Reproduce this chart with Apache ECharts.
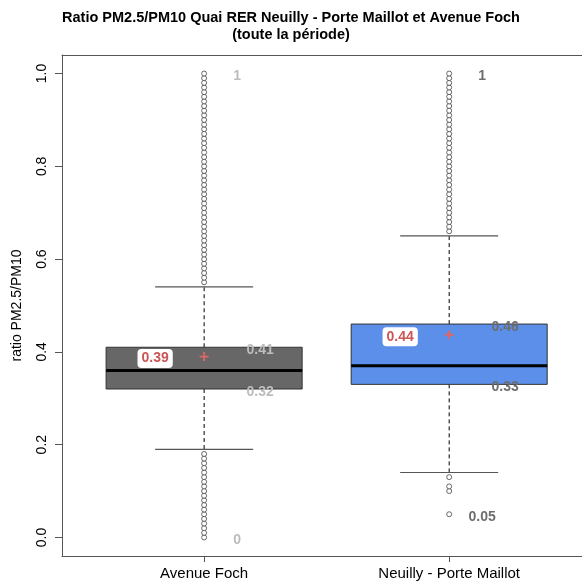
<!DOCTYPE html>
<html>
<head>
<meta charset="utf-8">
<script src="https://cdn.jsdelivr.net/npm/echarts@6/dist/echarts.min.js"></script>
<style>
  html, body { margin: 0; padding: 0; background: #fff; }
  #chart { width: 582px; height: 582px; }
</style>
</head>
<body>
<div id="chart"></div>
<script>
// sites
const categories = ["Avenue Foch", "Neuilly - Porte Maillot"];
// boxplot stats (whisker low, Q1, median, Q3, whisker high)
const whiskerLow = [0.19, 0.14];
const q1 = [0.32, 0.33];
const median = [0.36, 0.37];
const q3 = [0.41, 0.46];
const whiskerHigh = [0.54, 0.65];
const means = [0.39, 0.437];
const minVal = [0, 0.05];
const maxVal = [1, 1];
// outliers
const outliersFoch = [
  0.00, 0.01, 0.02, 0.03, 0.04, 0.05, 0.06, 0.07, 0.08, 0.09, 0.10, 0.11, 0.12, 0.13, 0.14, 0.15, 0.16, 0.17, 0.18,
  0.55, 0.56, 0.57, 0.58, 0.59, 0.60, 0.61, 0.62, 0.63, 0.64, 0.65, 0.66, 0.67, 0.68, 0.69, 0.70,
  0.71, 0.72, 0.73, 0.74, 0.75, 0.76, 0.77, 0.78, 0.79, 0.80, 0.81, 0.82, 0.83, 0.84, 0.85,
  0.86, 0.87, 0.88, 0.89, 0.90, 0.91, 0.92, 0.93, 0.94, 0.95, 0.96, 0.97, 0.98, 0.99, 1.00
];
const outliersNeuilly = [
  0.05, 0.10, 0.11, 0.13,
  0.66, 0.67, 0.68, 0.69, 0.70, 0.71, 0.72, 0.73, 0.74, 0.75, 0.76, 0.77, 0.78, 0.79, 0.80,
  0.81, 0.82, 0.83, 0.84, 0.85, 0.86, 0.87, 0.88, 0.89, 0.90, 0.91, 0.92, 0.93, 0.94, 0.95,
  0.96, 0.97, 0.98, 0.99, 1.00
];
const yTicks = [0, 0.2, 0.4, 0.6, 0.8, 1.0];

const boxColors = ["#676767", "#5b8fea"];
const labelColors = ["#bdbdbd", "#6e6e6e"];
const FONT = "Liberation Sans, Arial, sans-serif";

const chart = echarts.init(document.getElementById("chart"));

const boxData = categories.map((c, i) => [i + 1, whiskerLow[i], q1[i], median[i], q3[i], whiskerHigh[i], i]);
const outlierData = [];
outliersFoch.forEach((v) => outlierData.push([1, v]));
outliersNeuilly.forEach((v) => outlierData.push([2, v]));

// small value labels next to each box
function labelSeries(values, offsetX) {
  return {
    type: "scatter",
    symbolSize: 0,
    z: 10,
    silent: true,
    itemStyle: { opacity: 1 },
    data: values.map((v, i) => ({
      value: [i + 1, v],
      label: { color: labelColors[i] },
    })),
    label: {
      show: true,
      position: "inside",
      offset: [offsetX, 3],
      formatter: (p) => String(p.value[1]),
      fontFamily: FONT,
      fontSize: 14,
      fontWeight: "bold",
    },
  };
}

chart.setOption({
  animation: false,
  title: {
    text: "Ratio PM2.5/PM10 Quai RER Neuilly - Porte Maillot et Avenue Foch\n(toute la période)",
    left: "center",
    top: 4,
    textStyle: {
      fontFamily: FONT,
      fontSize: 14.5,
      fontWeight: "bold",
      lineHeight: 17,
      color: "#000",
    },
  },
  grid: {
    left: 62,
    right: 0,
    top: 55,
    bottom: 26,
  },
  xAxis: [
    {
      type: "value",
      min: 0.42,
      max: 2.542,
      axisLine: { show: true, onZero: false, lineStyle: { color: "#555" } },
      axisTick: { show: true, customValues: [1, 2], length: 6, lineStyle: { color: "#555" } },
      axisLabel: {
        customValues: [1, 2],
        formatter: (v) => categories[Math.round(v) - 1],
        fontFamily: FONT,
        fontSize: 15,
        color: "#000",
        margin: 10,
      },
      splitLine: { show: false },
    },
    {
      // top frame line
      type: "value",
      position: "top",
      min: 0.42,
      max: 2.542,
      axisLine: { show: true, onZero: false, lineStyle: { color: "#555" } },
      axisTick: { show: false },
      axisLabel: { show: false },
      splitLine: { show: false },
    },
  ],
  yAxis: {
    type: "value",
    min: -0.04,
    max: 1.04,
    name: "ratio PM2.5/PM10",
    nameLocation: "middle",
    nameGap: 38,
    nameRotate: 90,
    nameTextStyle: { fontFamily: FONT, fontSize: 14, color: "#000" },
    axisLine: { show: true, onZero: false, lineStyle: { color: "#555" } },
    axisTick: { show: true, customValues: yTicks, length: 7, lineStyle: { color: "#555" } },
    axisLabel: {
      customValues: yTicks,
      formatter: (v) => v.toFixed(1),
      rotate: 90,
      fontFamily: FONT,
      fontSize: 14,
      color: "#000",
      margin: 13,
    },
    splitLine: { show: false },
  },
  series: [
    {
      type: "custom",
      z: 2,
      data: boxData,
      renderItem: (params, api) => {
        const x = api.value(0);
        const i = api.value(6);
        const half = api.size([0.4, 0])[0];
        const cap = api.size([0.2, 0])[0];
        const pLo = api.coord([x, api.value(1)]);
        const pQ1 = api.coord([x, api.value(2)]);
        const pMed = api.coord([x, api.value(3)]);
        const pQ3 = api.coord([x, api.value(4)]);
        const pHi = api.coord([x, api.value(5)]);
        const dash = { stroke: "#000", lineWidth: 1, lineDash: [4, 3] };
        const capStyle = { stroke: "#555", lineWidth: 1.2 };
        return {
          type: "group",
          children: [
            { type: "line", shape: { x1: pQ3[0], y1: pQ3[1], x2: pHi[0], y2: pHi[1] }, style: dash },
            { type: "line", shape: { x1: pQ1[0], y1: pQ1[1], x2: pLo[0], y2: pLo[1] }, style: dash },
            { type: "line", shape: { x1: pHi[0] - cap, y1: pHi[1], x2: pHi[0] + cap, y2: pHi[1] }, style: capStyle },
            { type: "line", shape: { x1: pLo[0] - cap, y1: pLo[1], x2: pLo[0] + cap, y2: pLo[1] }, style: capStyle },
            {
              type: "rect",
              shape: { x: pQ3[0] - half, y: pQ3[1], width: half * 2, height: pQ1[1] - pQ3[1] },
              style: { fill: boxColors[i], stroke: "#333", lineWidth: 1 },
            },
            {
              type: "line",
              shape: { x1: pMed[0] - half, y1: pMed[1], x2: pMed[0] + half, y2: pMed[1] },
              style: { stroke: "#000", lineWidth: 3 },
            },
          ],
        };
      },
    },
    {
      // outliers
      type: "scatter",
      z: 3,
      data: outlierData,
      symbol: "circle",
      symbolSize: 5,
      itemStyle: { color: "#fff", borderColor: "#444", borderWidth: 0.8, opacity: 1 },
    },
    {
      // means
      type: "scatter",
      z: 4,
      data: means.map((v, i) => [i + 1, v]),
      symbol: "path://M3.2,0h1.6v8h-1.6z M0,3.2h8v1.6h-8z",
      symbolSize: 9,
      itemStyle: { color: "#e06666", opacity: 1 },
      label: {
        show: true,
        position: "inside",
        offset: [-49, 2],
        formatter: (p) => p.value[1].toFixed(2),
        fontFamily: FONT,
        fontSize: 14,
        fontWeight: "bold",
        color: "#cc5555",
        backgroundColor: "#fff",
        borderRadius: 4,
        padding: [3, 4, 2, 4],
      },
    },
    labelSeries(q3, 56),
    labelSeries(q1, 56),
    labelSeries(maxVal, 33),
    labelSeries(minVal, 33),
  ],
});
</script>
</body>
</html>
